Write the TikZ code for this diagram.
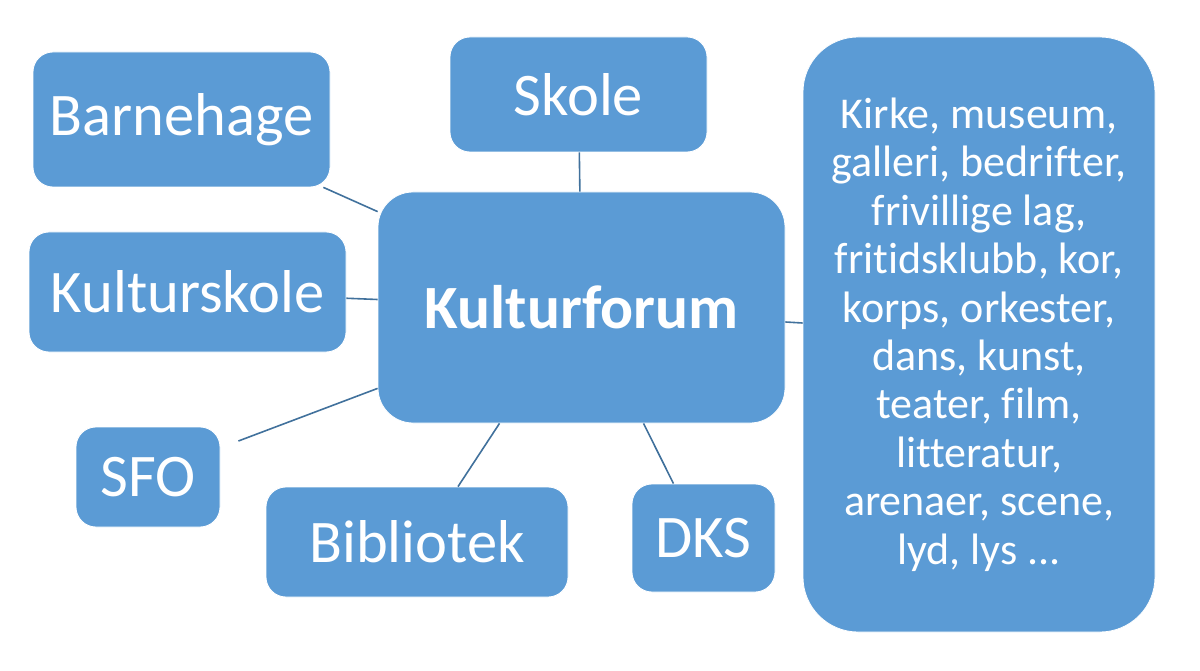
\documentclass[tikz,border=0pt]{standalone}
\usepackage{fontspec}
\setmainfont{Carlito}[Ligatures=NoCommon]
\usepackage{tikz}
\usetikzlibrary{positioning}
\definecolor{boksblaa}{HTML}{5B9BD5}
\definecolor{linjeblaa}{HTML}{41719C}
\tikzset{boks/.style={rectangle, fill=boksblaa, draw=white, line width=0.8pt, text=white, inner sep=0pt, rounded corners=20pt, font=\fontsize{60.5}{64}\selectfont}}
\tikzset{kant/.style={draw=linjeblaa, line width=1.6pt}}

\begin{document}
\begin{tikzpicture}[x=1pt, y=-1pt]
\useasboundingbox (0,0) rectangle (1200,671);
\node[boks, minimum width=407pt, minimum height=231pt, rounded corners=35pt, font=\fontsize{61.5}{64}\selectfont\bfseries] (KF) at (581.5,307.5) {Kulturforum};
\node[boks, minimum width=297pt, minimum height=135pt] (BH) at (181.5,119.5) {Barnehage};
\node[boks, minimum width=257pt, minimum height=115pt] (SK) at (578.5,94.5) {Skole};
\node[boks, minimum width=317pt, minimum height=120pt] (KS) at (187.5,292) {Kulturskole};
\node[boks, minimum width=144pt, minimum height=100pt] (SF) at (148,477) {SFO};
\node[boks, minimum width=302pt, minimum height=110pt] (BI) at (417,542) {Bibliotek};
\node[boks, minimum width=143pt, minimum height=108pt] (DK) at (703.5,538) {DKS};
\node[boks, minimum width=352pt, minimum height=595pt, rounded corners=55pt, align=center, font=\fontsize{44}{48.4}\selectfont] (AN) at (979,334.5)
  {Kirke, museum,\\galleri, bedrifter,\\frivillige lag,\\fritidsklubb, kor,\\korps, orkester,\\dans, kunst,\\teater, film,\\litteratur,\\arenaer, scene,\\lyd, lys ...};
\path[kant] ([xshift=-7pt]BH.south east) -- ([yshift=-20pt]KF.north west)
	(SK) -- (KF)
	(KS) -- (KF)
	([shift={(18pt,36pt)}]SF.east) -- ([yshift=35pt]KF.south west)
	([xshift=41pt]BI.north) -- ([xshift=-82pt]KF.south)
	([xshift=-30pt]DK.north) -- ([xshift=62pt]KF.south)
	([yshift=-14.5pt]KF.east) -- ([yshift=11.5pt]AN.west);
\end{tikzpicture}
\end{document}
